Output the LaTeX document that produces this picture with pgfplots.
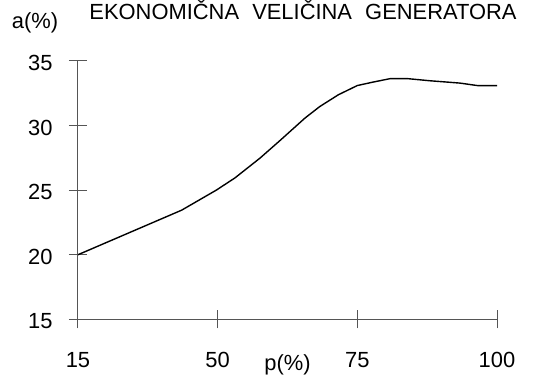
\documentclass[border=0pt]{standalone}
\usepackage{fontspec}
\setmainfont{Liberation Sans}
\usepackage{pgfplots}
\pgfplotsset{compat=1.18}
\definecolor{axgray}{HTML}{555555}
\begin{document}
\begin{tikzpicture}
\path[use as bounding box] (-78bp,-58.7bp) rectangle (456bp,319.3bp);
\begin{axis}[
  scale only axis,
  width=419bp, height=258.3bp,
  xmin=0, xmax=3, ymin=15, ymax=35,
  clip=false,
  axis x line=bottom, axis y line=left,
  axis line style={-, axgray, line width=1bp},
  tick style={axgray, line width=1bp},
  tick align=center,
  major tick length=18bp,
  xtick={0,1,2,3},
  xticklabels={15,50,75,100},
  ytick={15,20,25,30,35},
  font=\fontsize{21.9bp}{26bp}\selectfont,
  /pgf/number format/assume math mode=true,
  xticklabel style={anchor=base, yshift=-39bp},
  yticklabel style={anchor=east, xshift=-13bp, yshift=-2bp},
  xlabel={p(\%)},
  xlabel style={at={(axis description cs:0.5,-0.2)}, anchor=base},
  ylabel={a(\%)},
  ylabel style={rotate=-90, at={(axis description cs:-0.1026,1.1266)}, anchor=base},
  title={EKONOMIČNA\hspace{0.6em}VELIČINA\hspace{0.6em}GENERATORA},
  title style={at={(axis description cs:0.537,1.139)}, anchor=base, yshift=0pt},
]
\addplot[black, line width=1.4bp] coordinates {
(0,20.0) (0.742,23.45) (0.99,25.0) (1.124,25.95) (1.303,27.48) (1.446,28.84)
(1.625,30.58) (1.732,31.48) (1.865,32.39) (2.0,33.1) (2.114,33.37) (2.233,33.63)
(2.364,33.63) (2.52,33.47) (2.734,33.29) (2.865,33.09) (3.0,33.09)
};
\end{axis}
\end{tikzpicture}
\end{document}
